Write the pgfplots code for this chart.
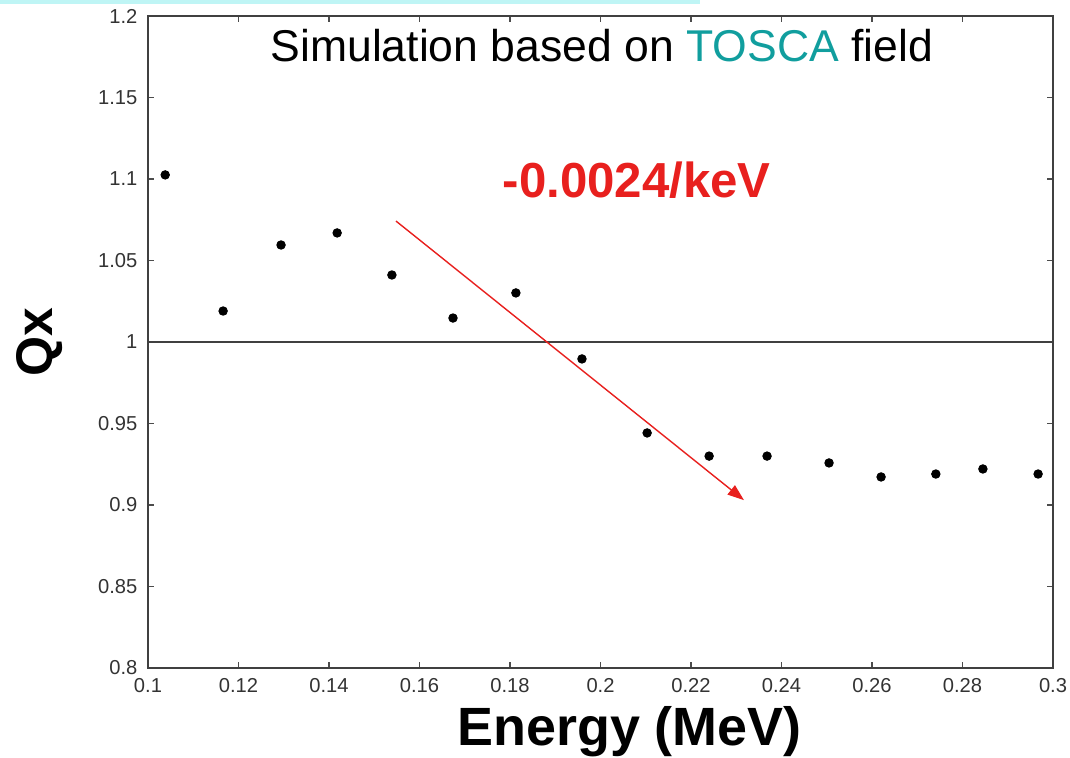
\documentclass[border=0pt]{standalone}
\usepackage{fontspec}
\setmainfont{Liberation Sans}
\usepackage{pgfplots}
\pgfplotsset{compat=1.18}
\usetikzlibrary{arrows.meta}
\definecolor{tosca}{HTML}{119E9E}
\definecolor{slopered}{HTML}{E8201E}
\definecolor{topbar}{HTML}{BFF5F5}

\begin{document}
\begin{tikzpicture}[x=0.015cm,y=0.015cm]
\begin{axis}[
    at={(0,0)}, anchor=south west,
    scale only axis,
    width=13.575cm, height=9.78cm,
    xmin=0.1, xmax=0.3, ymin=0.8, ymax=1.2,
    xtick={0.1,0.12,...,0.301},
    ytick={0.8,0.85,...,1.201},
    tick align=inside,
    major tick length=2.6pt,
    axis line style={black!75, line width=0.8pt},
    every tick/.style={black!70, line width=0.5pt},
    tick label style={font=\fontsize{8.6}{10}\selectfont, text=black!80},
    /pgf/number format/assume math mode=true,
    /pgf/number format/fixed,
    /pgf/number format/precision=2,
    xticklabel style={yshift=-1pt},
    yticklabel style={xshift=-1pt},
    xlabel={\fontsize{23}{26}\selectfont\bfseries Energy (MeV)},
    xlabel style={at={(axis description cs:0.532,0)}, anchor=north, yshift=-13pt},
    ylabel={\fontsize{22}{25}\selectfont\bfseries Qx},
    ylabel style={at={(axis description cs:0,0.5)}, anchor=south, yshift=33pt},
]
\addplot[black!75, line width=0.5pt, forget plot] coordinates {(0.1,1) (0.3,1)};
\addplot[only marks, mark=*, mark size=1.8pt, black] coordinates {
    (0.1038,1.1025)
    (0.1166,1.019)
    (0.1294,1.0595)
    (0.1418,1.0669)
    (0.1539,1.0411)
    (0.1674,1.0147)
    (0.1813,1.0301)
    (0.1959,0.9896)
    (0.2103,0.9442)
    (0.2240,0.930)
    (0.2368,0.930)
    (0.2505,0.9258)
    (0.2620,0.9172)
    (0.2741,0.919)
    (0.2845,0.9221)
    (0.2967,0.919)
};
\draw[slopered, line width=0.6pt, -{Triangle[length=7pt,width=5pt]}]
    (axis cs:0.1548,1.0742) -- (axis cs:0.2317,0.903);
\node[text=slopered, font=\fontsize{21}{24}\selectfont\bfseries]
    at (axis cs:0.208,1.0994) {-0.0024/keV};
\node[font=\fontsize{19}{22}\selectfont]
    at (axis cs:0.2003,1.182) {Simulation based on \textcolor{tosca}{TOSCA} field};
\end{axis}
\fill[topbar] (-148,664) rectangle (552,668);
\pgfresetboundingbox
\useasboundingbox (-148,-89) rectangle (922,668);
\end{tikzpicture}
\end{document}
